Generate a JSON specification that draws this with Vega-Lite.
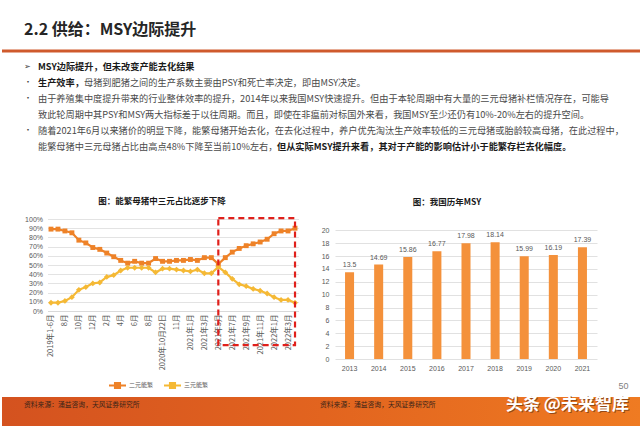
{
 "$schema": "https://vega.github.io/schema/vega-lite/v6.json",
 "padding": 0,
 "background": "#ffffff",
 "spacing": 5,
 "config": {"view": {"stroke": null}, "font": "Noto Sans CJK SC"},
 "vconcat": [
  {
   "width": 640, "height": 192,
   "data": {"values": [
    {"line":"h","slot":"margin","part":"heading","text":"2.2 供给：MSY边际提升"},
    {"line":"l1","slot":"margin","part":"marker","text":"➢"},
    {"line":"l1","slot":"indent","part":"lead","text":"MSY边际提升，但未改变产能去化结果"},
    {"line":"l2","slot":"margin","part":"marker","text":"•"},
    {"line":"l2","slot":"indent","part":"key","text":"生产效率，"},
    {"line":"l2","slot":"indent","part":"after key","text":"母猪到肥猪之间的生产系数主要由PSY和死亡率决定，即由MSY决定。"},
    {"line":"l3","slot":"margin","part":"marker","text":"•"},
    {"line":"l3","slot":"indent","part":"body","text":"由于养殖集中度提升带来的行业整体效率的提升，2014年以来我国MSY快速提升。但由于本轮周期中有大量的三元母猪补栏情况存在，可能导"},
    {"line":"l4","slot":"indent","part":"body","text":"致此轮周期中其PSY和MSY两大指标差于以往周期。而且，即使在非瘟前对标国外来看，我国MSY至少还仍有10%-20%左右的提升空间。"},
    {"line":"l5","slot":"margin","part":"marker","text":"•"},
    {"line":"l5","slot":"indent","part":"body","text":"随着2021年6月以来猪价的明显下降，能繁母猪开始去化，在去化过程中，养户优先淘汰生产效率较低的三元母猪或胎龄较高母猪，在此过程中，"},
    {"line":"l6","slot":"indent","part":"body","text":"能繁母猪中三元母猪占比由高点48%下降至当前10%左右，"},
    {"line":"l6","slot":"indent","part":"conclusion","text":"但从实际MSY提升来看，其对于产能的影响估计小于能繁存栏去化幅度。"}
   ]},
   "layer": [
    {"data": {"values": [{}]}, "mark": {"type": "rule", "color": "#CF5A2C", "strokeWidth": 3},
     "encoding": {"y": {"datum": "rule", "type": "ordinal", "scale": {"type": "point", "domain": ["h","rule","l1","l2","l3","l4","l5","l6"], "range": [35,147], "padding": 0}, "axis": null}}},
    {"transform": [{"filter": "datum.part === 'heading'"}],
     "mark": {"type": "text", "align": "left", "baseline": "middle", "dy": -5, "fontSize": 16, "fontWeight": "bold", "color": "#262626", "font": "Noto Sans CJK SC"},
     "encoding": {"x": {"field": "slot", "type": "nominal", "scale": {"type": "point", "domain": ["margin","indent"], "range": [22,36], "padding": 0}, "axis": null},
                  "y": {"field": "line", "type": "ordinal", "scale": {"type": "point", "domain": ["h","rule","l1","l2","l3","l4","l5","l6"], "range": [35,147], "padding": 0}, "axis": null},
                  "text": {"field": "text"}}},
    {"transform": [{"filter": "datum.part === 'marker'"}],
     "mark": {"type": "text", "align": "left", "baseline": "middle", "fontSize": 8, "color": "#404040"},
     "encoding": {"x": {"field": "slot", "type": "nominal", "scale": {"type": "point", "domain": ["margin","indent"], "range": [22,36], "padding": 0}, "axis": null},
                  "y": {"field": "line", "type": "ordinal", "scale": {"type": "point", "domain": ["h","rule","l1","l2","l3","l4","l5","l6"], "range": [35,147], "padding": 0}, "axis": null},
                  "text": {"field": "text"}}},
    {"transform": [{"filter": "datum.part === 'lead' || datum.part === 'key'"}],
     "mark": {"type": "text", "align": "left", "baseline": "middle", "fontSize": 9.2, "fontWeight": "bold", "color": "#1a1a1a", "font": "Noto Sans CJK SC"},
     "encoding": {"x": {"field": "slot", "type": "nominal", "scale": {"type": "point", "domain": ["margin","indent"], "range": [22,36], "padding": 0}, "axis": null},
                  "y": {"field": "line", "type": "ordinal", "scale": {"type": "point", "domain": ["h","rule","l1","l2","l3","l4","l5","l6"], "range": [35,147], "padding": 0}, "axis": null},
                  "text": {"field": "text"}}},
    {"transform": [{"filter": "datum.part === 'body'"}],
     "mark": {"type": "text", "align": "left", "baseline": "middle", "fontSize": 9.2, "color": "#4a4a4a", "font": "Noto Sans CJK SC"},
     "encoding": {"x": {"field": "slot", "type": "nominal", "scale": {"type": "point", "domain": ["margin","indent"], "range": [22,36], "padding": 0}, "axis": null},
                  "y": {"field": "line", "type": "ordinal", "scale": {"type": "point", "domain": ["h","rule","l1","l2","l3","l4","l5","l6"], "range": [35,147], "padding": 0}, "axis": null},
                  "text": {"field": "text"}}},
    {"transform": [{"filter": "datum.part === 'after key'"}],
     "mark": {"type": "text", "align": "left", "baseline": "middle", "dx": 46, "fontSize": 9.2, "color": "#4a4a4a", "font": "Noto Sans CJK SC"},
     "encoding": {"x": {"field": "slot", "type": "nominal", "scale": {"type": "point", "domain": ["margin","indent"], "range": [22,36], "padding": 0}, "axis": null},
                  "y": {"field": "line", "type": "ordinal", "scale": {"type": "point", "domain": ["h","rule","l1","l2","l3","l4","l5","l6"], "range": [35,147], "padding": 0}, "axis": null},
                  "text": {"field": "text"}}},
    {"transform": [{"filter": "datum.part === 'conclusion'"}],
     "mark": {"type": "text", "align": "left", "baseline": "middle", "dx": 239, "fontSize": 9.2, "fontWeight": "bold", "color": "#1a1a1a", "font": "Noto Sans CJK SC"},
     "encoding": {"x": {"field": "slot", "type": "nominal", "scale": {"type": "point", "domain": ["margin","indent"], "range": [22,36], "padding": 0}, "axis": null},
                  "y": {"field": "line", "type": "ordinal", "scale": {"type": "point", "domain": ["h","rule","l1","l2","l3","l4","l5","l6"], "range": [35,147], "padding": 0}, "axis": null},
                  "text": {"field": "text"}}}
   ]
  },
  {
   "bounds": "flush",
   "spacing": 36.5,
   "hconcat": [
    {"width": 9, "height": 1, "data": {"values": [{}]}, "mark": {"type": "rect", "opacity": 0}, "encoding": {}},
    {
     "width": 251, "height": 92,
     "title": {"text": "图：能繁母猪中三元占比逐步下降", "fontSize": 8.5, "fontWeight": "bold", "color": "#1a1a1a", "font": "Noto Sans CJK SC", "offset": 9.5, "frame": "bounds", "anchor": "middle"},
     "data": {"values": [
      {"period":"2019年1-6月","二元能繁":89,"三元能繁":9},
      {"period":"2019年7月","二元能繁":89,"三元能繁":9},
      {"period":"8月","二元能繁":87,"三元能繁":11},
      {"period":"2019年9月","二元能繁":85,"三元能繁":15},
      {"period":"10月","二元能繁":77,"三元能繁":23},
      {"period":"2019年11月","二元能繁":74,"三元能繁":26},
      {"period":"12月","二元能繁":69,"三元能繁":30},
      {"period":"2020年1月","二元能繁":67,"三元能繁":31},
      {"period":"2月","二元能繁":63,"三元能繁":37},
      {"period":"2020年3月","二元能繁":59,"三元能繁":39},
      {"period":"4月","二元能繁":55,"三元能繁":44},
      {"period":"2020年5月","二元能繁":52,"三元能繁":47},
      {"period":"6月","二元能繁":54,"三元能繁":47},
      {"period":"2020年7月","二元能繁":52,"三元能繁":47},
      {"period":"8月\u200b","二元能繁":52,"三元能繁":47},
      {"period":"2020年9月","二元能繁":57,"三元能繁":42},
      {"period":"2020年10月22日","二元能繁":54,"三元能繁":46},
      {"period":"2020年10月29日","二元能繁":54,"三元能繁":46},
      {"period":"11月","二元能繁":55,"三元能繁":45},
      {"period":"2020年12月","二元能繁":55,"三元能繁":44},
      {"period":"2021年1月","二元能繁":56,"三元能繁":43},
      {"period":"2021年2月","二元能繁":55,"三元能繁":45},
      {"period":"2021年3月","二元能繁":58,"三元能繁":41},
      {"period":"2021年4月","二元能繁":58,"三元能繁":41},
      {"period":"2021年5月","二元能繁":51,"三元能繁":48},
      {"period":"2021年6月","二元能繁":58,"三元能繁":42},
      {"period":"2021年7月","二元能繁":64,"三元能繁":35},
      {"period":"2021年8月","二元能繁":68,"三元能繁":29},
      {"period":"2021年9月","二元能繁":71,"三元能繁":27},
      {"period":"2021年10月","二元能繁":73,"三元能繁":24},
      {"period":"2021年11月","二元能繁":75,"三元能繁":22},
      {"period":"2021年12月","二元能繁":78,"三元能繁":19},
      {"period":"2022年1月","二元能繁":84,"三元能繁":15},
      {"period":"2022年2月","二元能繁":87,"三元能繁":12},
      {"period":"2022年3月","二元能繁":87,"三元能繁":12},
      {"period":"2022年4月","二元能繁":90,"三元能繁":9}
     ]},
     "transform": [{"fold": ["二元能繁","三元能繁"], "as": ["series","value"]}],
     "layer": [
      {"mark": {"type": "line", "strokeWidth": 2.2},
       "encoding": {
        "x": {"field": "period", "type": "ordinal", "sort": null,
              "scale": {"type": "point", "padding": 0.5, "domain": ["2019年1-6月","2019年7月","8月","2019年9月","10月","2019年11月","12月","2020年1月","2月","2020年3月","4月","2020年5月","6月","2020年7月","8月\u200b","2020年9月","2020年10月22日","2020年10月29日","11月","2020年12月","2021年1月","2021年2月","2021年3月","2021年4月","2021年5月","2021年6月","2021年7月","2021年8月","2021年9月","2021年10月","2021年11月","2021年12月","2022年1月","2022年2月","2022年3月","2022年4月"]},
              "axis": {"values": ["2019年1-6月","8月","10月","12月","2月","4月","6月","8月\u200b","2020年10月22日","11月","2021年1月","2021年3月","2021年5月","2021年7月","2021年9月","2021年11月","2022年1月","2022年3月"],
                       "labelAngle": -90, "labelFont": "Noto Sans CJK SC", "labelFontSize": 7.5, "labelColor": "#595959", "ticks": false, "domainColor": "#d9d9d9", "labelPadding": 3, "labelOverlap": false, "title": null, "grid": false}},
        "y": {"field": "value", "type": "quantitative", "scale": {"domain": [0,100], "nice": false},
              "axis": {"values": [0,10,20,30,40,50,60,70,80,90,100], "labelExpr": "datum.value + '%'", "grid": true, "gridColor": "#dcdcdc", "gridWidth": 0.8, "domain": false, "ticks": false, "labelFont": "Liberation Sans", "labelFontSize": 7, "labelColor": "#595959", "labelPadding": 5, "labelOverlap": false, "labelBound": false, "title": null}},
        "color": {"field": "series", "type": "nominal", "scale": {"domain": ["二元能繁","三元能繁"], "range": ["#EE8228","#F5B935"]},
                  "legend": {"orient": "none", "legendX": 106, "legendY": 375.5, "direction": "horizontal", "title": null,
                             "symbolType": "M-1,0H1M-0.3,-0.3H0.3V0.3H-0.3Z", "symbolSize": 289, "symbolStrokeWidth": 2,
                             "labelFont": "Noto Sans CJK SC", "labelFontSize": 6, "labelColor": "#595959", "labelOffset": 2, "columnPadding": 6,
                             "encode": {"symbols": {"update": {"fill": {"scale": "color", "field": "value"}}}}}}
       }},
      {"transform": [{"filter": "datum.series === '二元能繁'"}],
       "mark": {"type": "point", "shape": "square", "filled": true, "opacity": 1, "size": 24},
       "encoding": {
        "x": {"field": "period", "type": "ordinal", "sort": null, "scale": {"type": "point", "padding": 0.5},
              "axis": {"values": ["2019年1-6月","8月","10月","12月","2月","4月","6月","8月\u200b","2020年10月22日","11月","2021年1月","2021年3月","2021年5月","2021年7月","2021年9月","2021年11月","2022年1月","2022年3月"],
                       "labelAngle": -90, "labelFont": "Noto Sans CJK SC", "labelFontSize": 7.5, "labelColor": "#595959", "ticks": false, "domainColor": "#d9d9d9", "labelPadding": 3, "labelOverlap": false, "title": null, "grid": false}},
        "y": {"field": "value", "type": "quantitative", "scale": {"domain": [0,100], "nice": false},
              "axis": {"values": [0,10,20,30,40,50,60,70,80,90,100], "labelExpr": "datum.value + '%'", "grid": true, "gridColor": "#dcdcdc", "gridWidth": 0.8, "domain": false, "ticks": false, "labelFont": "Liberation Sans", "labelFontSize": 7, "labelColor": "#595959", "labelPadding": 5, "labelOverlap": false, "labelBound": false, "title": null}},
        "color": {"field": "series", "type": "nominal", "legend": null}
       }},
      {"transform": [{"filter": "datum.series === '三元能繁'"}],
       "mark": {"type": "point", "shape": "diamond", "filled": true, "opacity": 1, "size": 34},
       "encoding": {
        "x": {"field": "period", "type": "ordinal", "sort": null, "scale": {"type": "point", "padding": 0.5},
              "axis": {"values": ["2019年1-6月","8月","10月","12月","2月","4月","6月","8月\u200b","2020年10月22日","11月","2021年1月","2021年3月","2021年5月","2021年7月","2021年9月","2021年11月","2022年1月","2022年3月"],
                       "labelAngle": -90, "labelFont": "Noto Sans CJK SC", "labelFontSize": 7.5, "labelColor": "#595959", "ticks": false, "domainColor": "#d9d9d9", "labelPadding": 3, "labelOverlap": false, "title": null, "grid": false}},
        "y": {"field": "value", "type": "quantitative", "scale": {"domain": [0,100], "nice": false},
              "axis": {"values": [0,10,20,30,40,50,60,70,80,90,100], "labelExpr": "datum.value + '%'", "grid": true, "gridColor": "#dcdcdc", "gridWidth": 0.8, "domain": false, "ticks": false, "labelFont": "Liberation Sans", "labelFontSize": 7, "labelColor": "#595959", "labelPadding": 5, "labelOverlap": false, "labelBound": false, "title": null}},
        "color": {"field": "series", "type": "nominal", "legend": null}
       }},
      {"data": {"values": [{}]},
       "mark": {"type": "rect", "fill": "transparent", "stroke": "#E0201B", "strokeWidth": 2.2, "strokeDash": [6,4]},
       "encoding": {
        "x": {"datum": "2021年5月", "type": "ordinal", "scale": {"type": "point", "padding": 0.5},
              "axis": {"values": ["2019年1-6月","8月","10月","12月","2月","4月","6月","8月\u200b","2020年10月22日","11月","2021年1月","2021年3月","2021年5月","2021年7月","2021年9月","2021年11月","2022年1月","2022年3月"],
                       "labelAngle": -90, "labelFont": "Noto Sans CJK SC", "labelFontSize": 7.5, "labelColor": "#595959", "ticks": false, "domainColor": "#d9d9d9", "labelPadding": 3, "labelOverlap": false, "title": null, "grid": false}},
        "x2": {"datum": "2022年4月"},
        "y": {"datum": 101, "type": "quantitative", "scale": {"domain": [0,100], "nice": false},
              "axis": {"values": [0,10,20,30,40,50,60,70,80,90,100], "labelExpr": "datum.value + '%'", "grid": true, "gridColor": "#dcdcdc", "gridWidth": 0.8, "domain": false, "ticks": false, "labelFont": "Liberation Sans", "labelFontSize": 7, "labelColor": "#595959", "labelPadding": 5, "labelOverlap": false, "labelBound": false, "title": null}},
        "y2": {"datum": -37}
       }}
     ]
    },
    {
     "width": 262, "height": 140,
     "title": {"text": "图：我国历年MSY", "fontSize": 8.5, "fontWeight": "bold", "color": "#1a1a1a", "font": "Noto Sans CJK SC", "offset": 13, "frame": "group", "anchor": "middle", "dx": -19},
     "data": {"values": [
      {"year":"2013","msy":13.5},{"year":"2014","msy":14.69},{"year":"2015","msy":15.86},
      {"year":"2016","msy":16.77},{"year":"2017","msy":17.98},{"year":"2018","msy":18.14},
      {"year":"2019","msy":15.99},{"year":"2020","msy":16.19},{"year":"2021","msy":17.39}
     ]},
     "encoding": {
      "x": {"field": "year", "type": "ordinal", "scale": {"paddingInner": 0.69, "paddingOuter": 0.345},
            "axis": {"labelAngle": 0, "labelFont": "Liberation Sans", "labelFontSize": 7, "labelColor": "#595959", "ticks": false, "domain": false, "labelPadding": 5.5,
                     "title": "50", "titleX": 293, "titleY": 26, "titleAlign": "right", "titleBaseline": "middle", "titleFontSize": 9, "titleFontWeight": "normal", "titleColor": "#7f7f7f", "titleFont": "Liberation Sans"}},
      "y": {"field": "msy", "type": "quantitative", "scale": {"domain": [0,21.77], "nice": false},
            "axis": {"values": [0,2,4,6,8,10,12,14,16,18,20], "grid": true, "gridColor": "#d9d9d9", "gridWidth": 0.8, "domain": false, "ticks": false, "labelFont": "Liberation Sans", "labelFontSize": 7, "labelColor": "#595959", "labelPadding": 6, "labelOverlap": false, "title": null}}
     },
     "layer": [
      {"mark": {"type": "bar", "color": "#F4913B"}},
      {"mark": {"type": "text", "dy": -7, "baseline": "middle", "fontSize": 7, "font": "Liberation Sans", "color": "#595959"},
       "encoding": {"text": {"field": "msy", "type": "quantitative"}}}
     ]
    }
   ]
  },
  {
   "width": 640, "height": 29,
   "data": {"values": [
    {"slot": "left", "text": "资料来源：涌益咨询，天风证券研究所"},
    {"slot": "right", "text": "资料来源：涌益咨询，天风证券研究所"}
   ]},
   "layer": [
    {"data": {"values": [{}]},
     "mark": {"type": "rect", "color": {"gradient": "linear", "x1": 0, "x2": 1, "y1": 0, "y2": 0, "stops": [{"offset": 0, "color": "#D4521F"}, {"offset": 0.5, "color": "#E2641F"}, {"offset": 1, "color": "#EF7B22"}]}},
     "encoding": {}},
    {"mark": {"type": "text", "align": "left", "baseline": "middle", "dy": -6.5, "fontSize": 6.8, "color": "#3a2418", "font": "Noto Sans CJK SC"},
     "encoding": {"x": {"field": "slot", "type": "nominal", "scale": {"type": "point", "domain": ["left","right"], "range": [22,318], "padding": 0}, "axis": null},
                  "text": {"field": "text"}}},
    {"data": {"values": [{"text": "头条 @未来智库"}]},
     "mark": {"type": "text", "x": "width", "dx": -12, "dy": -6, "align": "right", "baseline": "middle", "fontSize": 17, "fontWeight": "bold", "color": "#5a2a10", "opacity": 0.6, "font": "Noto Sans CJK SC"},
     "encoding": {"text": {"field": "text"}}},
    {"data": {"values": [{"text": "头条 @未来智库"}]},
     "mark": {"type": "text", "x": "width", "dx": -13, "dy": -7, "align": "right", "baseline": "middle", "fontSize": 17, "fontWeight": "bold", "color": "#ffffff", "font": "Noto Sans CJK SC"},
     "encoding": {"text": {"field": "text"}}}
   ]
  }
 ]
}
